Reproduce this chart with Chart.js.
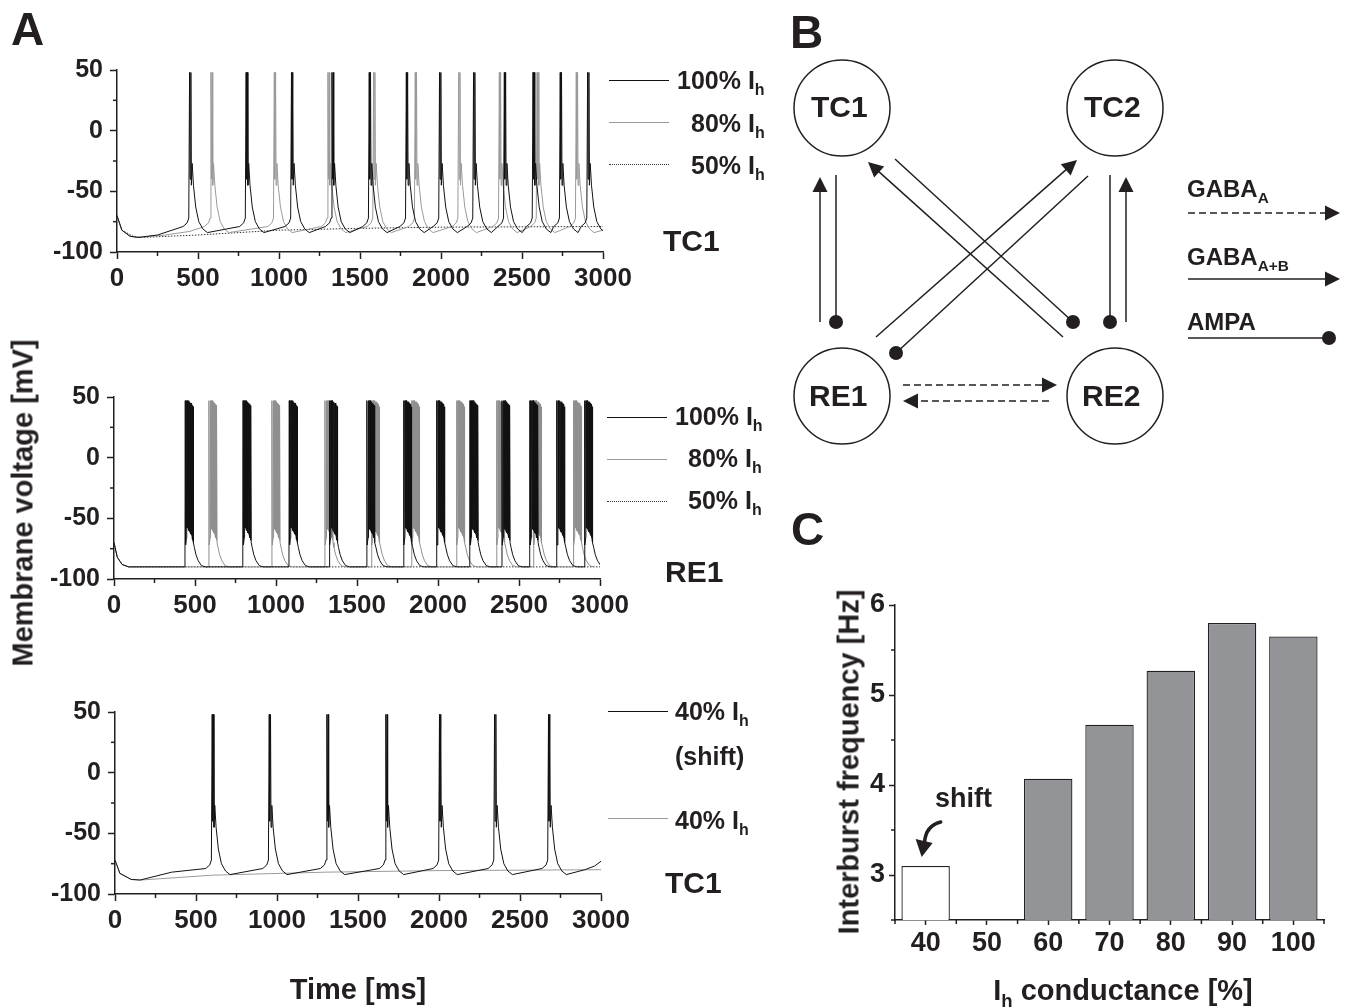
<!DOCTYPE html>
<html>
<head>
<meta charset="utf-8">
<script src="https://cdn.jsdelivr.net/npm/chart.js@4.4.1/dist/chart.umd.min.js"></script>
<style>
  body { margin: 0; background: #fff; }
  #fig { position: relative; width: 1353px; height: 1007px; overflow: hidden;
         font-family: "Liberation Sans", Arial, sans-serif; font-weight: bold; color: #231f20; }
  canvas { position: absolute; left: 0; top: 0; }
  .t { position: absolute; line-height: 1; white-space: nowrap; }
  .t sub { font-size: 0.64em; vertical-align: baseline; position: relative; top: 0.38em; }
  .c { transform: translate(-50%, 0); }
  .rot { transform: translate(-50%, -50%) rotate(-90deg); }
  .ln { position: absolute; height: 0; width: 60px; border-top: 1px solid #111; }
</style>
</head>
<body>
<div id="fig">
  <div class="t" style="left:11px;top:6px;font-size:46px">A</div>
  <div class="t" style="left:790px;top:9px;font-size:46px">B</div>
  <div class="t" style="left:791px;top:506px;font-size:46px">C</div>

  <div class="t rot" style="left:23px;top:503px;font-size:29px">Membrane voltage [mV]</div>
  <div class="t c" style="left:358px;top:975px;font-size:29px">Time [ms]</div>
  <div class="t rot" style="left:849px;top:762px;font-size:29px">Interburst frequency [Hz]</div>
  <div class="t c" style="left:1123px;top:976px;font-size:29px">I<sub>h</sub> conductance [%]</div>

  <div class="ln" style="left:609px;top:80px"></div>
  <div class="ln" style="left:609px;top:122px;border-color:#9a9a9a"></div>
  <div class="ln" style="left:609px;top:164px;border-top:1px dotted #333"></div>
  <div class="t" style="left:677px;top:68px;font-size:25px">100% I<sub>h</sub></div>
  <div class="t" style="left:691px;top:111px;font-size:25px">80% I<sub>h</sub></div>
  <div class="t" style="left:691px;top:153px;font-size:25px">50% I<sub>h</sub></div>
  <div class="t" style="left:663px;top:226px;font-size:30px">TC1</div>

  <div class="ln" style="left:607px;top:417px"></div>
  <div class="ln" style="left:607px;top:459px;border-color:#9a9a9a"></div>
  <div class="ln" style="left:607px;top:501px;border-top:1px dotted #333"></div>
  <div class="t" style="left:675px;top:404px;font-size:25px">100% I<sub>h</sub></div>
  <div class="t" style="left:688px;top:446px;font-size:25px">80% I<sub>h</sub></div>
  <div class="t" style="left:688px;top:488px;font-size:25px">50% I<sub>h</sub></div>
  <div class="t" style="left:665px;top:557px;font-size:30px">RE1</div>

  <div class="ln" style="left:608px;top:711px"></div>
  <div class="ln" style="left:608px;top:818px;border-color:#9a9a9a"></div>
  <div class="t" style="left:675px;top:699px;font-size:25px">40% I<sub>h</sub></div>
  <div class="t" style="left:675px;top:744px;font-size:25px">(shift)</div>
  <div class="t" style="left:675px;top:808px;font-size:25px">40% I<sub>h</sub></div>
  <div class="t" style="left:665px;top:868px;font-size:30px">TC1</div>

  <div class="t" style="left:811px;top:92px;font-size:30px">TC1</div>
  <div class="t" style="left:1084px;top:92px;font-size:30px">TC2</div>
  <div class="t" style="left:809px;top:381px;font-size:30px">RE1</div>
  <div class="t" style="left:1082px;top:381px;font-size:30px">RE2</div>
  <div class="t" style="left:1187px;top:177px;font-size:24px">GABA<sub>A</sub></div>
  <div class="t" style="left:1187px;top:245px;font-size:24px">GABA<sub>A+B</sub></div>
  <div class="t" style="left:1187px;top:310px;font-size:24px">AMPA</div>

  <div class="t" style="left:935px;top:785px;font-size:27px">shift</div>
</div>
<script>
// ---- panel A: event times (ms) ----
const tcSpikes100 = [448, 797, 1077, 1327, 1557, 1786, 1991, 2201, 2391, 2568, 2736, 2905];
const tcSpikes80 = [580, 971, 1302, 1584, 1841, 2109, 2360, 2593, 2835];
const reBursts100 = [440, 797, 1082, 1330, 1561, 1788, 1992, 2198, 2395, 2568, 2733, 2905];
const reBursts80 = [586, 975, 1302, 1590, 1837, 2115, 2362, 2590, 2836];
const tcShiftSpikes = [600, 952, 1308, 1672, 2003, 2343, 2676];

// one TC low-threshold spike, [ms from onset, mV]
const tcSpikeShape = [[-40, -79], [-15, -76], [-5, -72], [0, 48], [3, -40], [8, 48], [11, -45],
  [16, -27], [24, -45], [38, -63], [57, -75], [82, -81], [110, -84]];
// one RE burst, [ms from onset, mV]
const reBurstShape = [[-2, -90], [0, 47], [2, -72], [7, -66], [8, 47], [10, -58], [12, 47], [14, -58],
  [16, 47], [18, -59], [20, 47], [22, -60], [24, 46], [26, -61], [28, 46], [30, -62], [32, 45],
  [34, -63], [36, 45], [38, -64], [40, 44], [42, -66], [44, 43], [46, -68], [48, 42], [50, -70],
  [56, -74], [66, -80], [80, -85], [100, -89], [125, -90]];

// stretches before the first / after the last event, [ms, mV]
const tc100Start = [[0, -70], [30, -82], [80, -87], [130, -88], [250, -86]];
const tc80Start = [[0, -70], [30, -82], [80, -87], [130, -88], [300, -86], [450, -83]];
const tc80End = [[3000, -82]];
const tc50Trace = [[0, -70], [30, -82], [100, -87], [150, -88], [500, -86], [1000, -82],
  [1500, -80.5], [2000, -79.5], [3000, -79]];
const reStart = [[0, -70], [20, -82], [50, -88], [90, -90]];
const re50Trace = [[0, -70], [20, -82], [50, -88], [90, -90], [3000, -90]];
const shiftStart = [[0, -72], [30, -83], [100, -88], [155, -88.5], [350, -82]];
const shiftEnd = [[2900, -80], [2960, -77], [3000, -73]];
const tc40Trace = [[0, -72], [30, -83], [100, -88], [160, -88.5], [600, -84.5], [1300, -82],
  [2000, -80.7], [3000, -80]];

const timeTicks = [0, 500, 1000, 1500, 2000, 2500, 3000];
const timeMinor = [250, 750, 1250, 1750, 2250, 2750];
const vTicks = [-100, -50, 0, 50];
const vMinor = [-75, -25, 25];

// ---- panel B: network ----
const cellNames = ["TC1", "TC2", "RE1", "RE2"];
const cellCol = [0, 1, 0, 1];
const cellRow = [1, 1, 0, 0];
const synFrom = ["RE1", "TC1", "TC2", "RE2", "RE1", "TC2", "RE2", "TC1", "RE1", "RE2"];
const synTo = ["TC1", "RE1", "RE2", "TC2", "TC2", "RE1", "TC1", "RE2", "RE2", "RE1"];
const synType = ["GABAA+B", "AMPA", "AMPA", "GABAA+B", "GABAA+B", "AMPA", "GABAA+B", "AMPA", "GABAA", "GABAA"];

// ---- panel C ----
const ihLevels = ["40", "50", "60", "70", "80", "90", "100"];
const ihFreq = [3.1, 2.5, 4.07, 4.67, 5.27, 5.8, 5.65];
const hzTicks = [3, 4, 5, 6];
const hzMinor = [2.5, 3.5, 4.5, 5.5];

const ink = "#231f20";
Chart.defaults.font.family = '"Liberation Sans", Arial, sans-serif';
Chart.defaults.font.weight = "bold";
Chart.defaults.color = ink;

const fig = document.getElementById("fig");
const firstLabel = fig.firstElementChild;

function makeCanvas() {
  const c = document.createElement("canvas");
  c.width = 1353;
  c.height = 1007;
  fig.insertBefore(c, firstLabel);
  return c.getContext("2d");
}

function trace(start, onsets, shape, end) {
  const pts = start.map(([x, y]) => ({ x, y }));
  onsets.forEach((t0) => shape.forEach(([dt, v]) => pts.push({ x: t0 + dt, y: v })));
  end.forEach(([x, y]) => pts.push({ x, y }));
  return pts;
}

// short unlabeled ticks
const minorTicks = {
  id: "minorTicks",
  afterDraw(chart, args, opts) {
    const { ctx, chartArea: a } = chart;
    ctx.save();
    ctx.strokeStyle = ink;
    ctx.lineWidth = 1.5;
    (opts.x || []).forEach((v) => {
      const px = chart.scales.x.getPixelForValue(v);
      ctx.beginPath();
      ctx.moveTo(px, a.bottom);
      ctx.lineTo(px, a.bottom + opts.len);
      ctx.stroke();
    });
    (opts.y || []).forEach((v) => {
      const py = chart.scales.y.getPixelForValue(v);
      ctx.beginPath();
      ctx.moveTo(a.left, py);
      ctx.lineTo(a.left - opts.len, py);
      ctx.stroke();
    });
    ctx.restore();
  },
};

const axisGrid = { display: true, drawOnChartArea: false, drawTicks: true, tickLength: 7, tickWidth: 1.5, color: ink };
const axisBorder = { display: true, color: ink, width: 1.5 };
const plain = (v) => String(v);

function line(data, color, dash) {
  return { data, showLine: true, borderColor: color, borderWidth: 1, borderDash: dash || [], pointRadius: 0, tension: 0 };
}

function voltageChart(area, datasets) {
  return new Chart(makeCanvas(), {
    type: "scatter",
    data: { datasets },
    options: {
      responsive: false,
      animation: false,
      events: [],
      layout: { padding: { left: area.left - 70, right: 1353 - area.right, top: area.top, bottom: 1007 - area.bottom - 40 } },
      plugins: { legend: { display: false }, tooltip: { enabled: false }, minorTicks: { x: timeMinor, y: vMinor, len: 4 } },
      scales: {
        x: {
          type: "linear", min: 0, max: 3000,
          afterBuildTicks: (s) => { s.ticks = timeTicks.map((value) => ({ value })); },
          afterFit: (s) => { s.height = 40; },
          ticks: { font: { size: 26 }, padding: 4, maxRotation: 0, autoSkip: false, callback: plain },
          grid: axisGrid, border: axisBorder,
        },
        y: {
          type: "linear", min: -100, max: 50,
          afterBuildTicks: (s) => { s.ticks = vTicks.map((value) => ({ value })); },
          afterFit: (s) => { s.width = 70; },
          ticks: { font: { size: 25 }, padding: 7, callback: plain },
          grid: axisGrid, border: axisBorder,
        },
      },
    },
    plugins: [minorTicks],
  });
}

voltageChart({ left: 117, right: 603, top: 70, bottom: 252 }, [
  line(trace(tc100Start, tcSpikes100, tcSpikeShape, []), "#111"),
  line(trace(tc80Start, tcSpikes80, tcSpikeShape, tc80End), "#9a9a9a"),
  line(tc50Trace.map(([x, y]) => ({ x, y })), "#333", [1.5, 1.5]),
]);

voltageChart({ left: 114, right: 600, top: 397, bottom: 579 }, [
  line(trace(reStart, reBursts100, reBurstShape, []), "#111"),
  line(trace(reStart, reBursts80, reBurstShape, []), "#8f8f8f"),
  line(re50Trace.map(([x, y]) => ({ x, y })), "#333", [1.5, 1.5]),
]);

voltageChart({ left: 115, right: 601, top: 712, bottom: 894 }, [
  line(trace(shiftStart, tcShiftSpikes, tcSpikeShape, shiftEnd), "#111"),
  line(tc40Trace.map(([x, y]) => ({ x, y })), "#9a9a9a"),
]);

// ---- panel B drawing ----
// pixel offsets of each synapse's start (from source cell) and end (from target cell)
const synAnchors = [
  [[-22, -74], [-22, 69]], [[-6, 67], [-6, -74]], [[-5, 67], [-5, -74]], [[11, -74], [11, 69]],
  [[34, -59], [-38, 52]], [[-27, 68], [54, -43]], [[-52, -59], [26, 54]], [[53, 51], [-42, -74]],
  [[61, -11], [-58, -11]], [[-66, 5], [61, 5]],
];
// legend glyphs, page pixels
const synKey = { "GABAA": [[1188, 213], [1340, 213]], "GABAA+B": [[1188, 279], [1340, 279]], "AMPA": [[1188, 338], [1329, 338]] };

function drawSynapse(ctx, type, p0, p1) {
  const dx = p1[0] - p0[0], dy = p1[1] - p0[1];
  const len = Math.hypot(dx, dy), ux = dx / len, uy = dy / len;
  ctx.beginPath();
  ctx.setLineDash(type === "GABAA" ? [7, 4] : []);
  ctx.moveTo(p0[0], p0[1]);
  if (type === "AMPA") {
    ctx.lineTo(p1[0], p1[1]);
    ctx.stroke();
    ctx.setLineDash([]);
    ctx.beginPath();
    ctx.arc(p1[0], p1[1], 7, 0, Math.PI * 2);
    ctx.fill();
    return;
  }
  ctx.lineTo(p1[0] - ux * 13, p1[1] - uy * 13);
  ctx.stroke();
  ctx.setLineDash([]);
  ctx.beginPath();
  ctx.moveTo(p1[0], p1[1]);
  ctx.lineTo(p1[0] - ux * 15 - uy * 7.5, p1[1] - uy * 15 + ux * 7.5);
  ctx.lineTo(p1[0] - ux * 15 + uy * 7.5, p1[1] - uy * 15 - ux * 7.5);
  ctx.closePath();
  ctx.fill();
}

const synapses = {
  id: "synapses",
  afterDatasetsDraw(chart) {
    const { ctx } = chart;
    const pos = (name) => {
      const i = cellNames.indexOf(name);
      return [chart.scales.x.getPixelForValue(cellCol[i]), chart.scales.y.getPixelForValue(cellRow[i])];
    };
    ctx.save();
    ctx.strokeStyle = ink;
    ctx.fillStyle = ink;
    ctx.lineWidth = 1.5;
    synType.forEach((type, i) => {
      const s = pos(synFrom[i]), t = pos(synTo[i]);
      const [a0, a1] = synAnchors[i];
      drawSynapse(ctx, type, [s[0] + a0[0], s[1] + a0[1]], [t[0] + a1[0], t[1] + a1[1]]);
    });
    Object.keys(synKey).forEach((type) => drawSynapse(ctx, type, synKey[type][0], synKey[type][1]));
    ctx.restore();
  },
};

new Chart(makeCanvas(), {
  type: "scatter",
  data: {
    datasets: [{
      data: cellNames.map((n, i) => ({ x: cellCol[i], y: cellRow[i] })),
      pointRadius: 48, pointBackgroundColor: "#fff", pointBorderColor: ink, pointBorderWidth: 1.5, clip: false,
    }],
  },
  options: {
    responsive: false, animation: false, events: [],
    layout: { padding: { left: 842, right: 1353 - 1115, top: 108, bottom: 1007 - 396 } },
    plugins: { legend: { display: false }, tooltip: { enabled: false } },
    scales: { x: { display: false, min: 0, max: 1 }, y: { display: false, min: 0, max: 1 } },
  },
  plugins: [synapses],
});

// ---- panel C ----
const shiftArrow = {
  id: "shiftArrow",
  afterDraw(chart) {
    const { ctx } = chart;
    const tx = chart.scales.x.getPixelForValue(0) - 4;
    const ty = chart.scales.y.getPixelForValue(ihFreq[0]) - 9;
    ctx.save();
    ctx.strokeStyle = ink;
    ctx.fillStyle = ink;
    ctx.lineWidth = 3.5;
    ctx.lineCap = "round";
    ctx.beginPath();
    ctx.moveTo(tx + 19, ty - 35);
    ctx.quadraticCurveTo(tx + 4, ty - 31, tx + 3, ty - 15);
    ctx.stroke();
    ctx.beginPath();
    ctx.moveTo(tx - 6, ty - 18);
    ctx.lineTo(tx + 11, ty - 14);
    ctx.lineTo(tx, ty);
    ctx.closePath();
    ctx.fill();
    ctx.restore();
  },
};

new Chart(makeCanvas(), {
  type: "bar",
  data: {
    labels: ihLevels,
    datasets: [{
      data: ihFreq,
      backgroundColor: ihFreq.map((v, i) => (i === 0 ? "#ffffff" : "#939497")),
      borderColor: ink, borderWidth: 1.3, barPercentage: 0.79, categoryPercentage: 1,
    }],
  },
  options: {
    responsive: false, animation: false, events: [],
    layout: { padding: { left: 895 - 50, right: 1353 - 1324, top: 605, bottom: 1007 - 920 - 45 } },
    plugins: {
      legend: { display: false }, tooltip: { enabled: false },
      minorTicks: { x: [-0.5, 0.5, 1.5, 2.5, 3.5, 4.5, 5.5, 6.5], y: hzMinor, len: 4 },
    },
    scales: {
      x: {
        afterFit: (s) => { s.height = 45; },
        ticks: { font: { size: 27 }, padding: 2 },
        grid: { ...axisGrid, offset: false, tickLength: 5 }, border: axisBorder,
      },
      y: {
        min: 2.5, max: 6,
        afterBuildTicks: (s) => { s.ticks = hzTicks.map((value) => ({ value })); },
        afterFit: (s) => { s.width = 50; },
        ticks: { font: { size: 27 }, padding: 4, callback: plain },
        grid: { ...axisGrid, tickLength: 6 }, border: axisBorder,
      },
    },
  },
  plugins: [minorTicks, shiftArrow],
});
</script>
</body>
</html>
